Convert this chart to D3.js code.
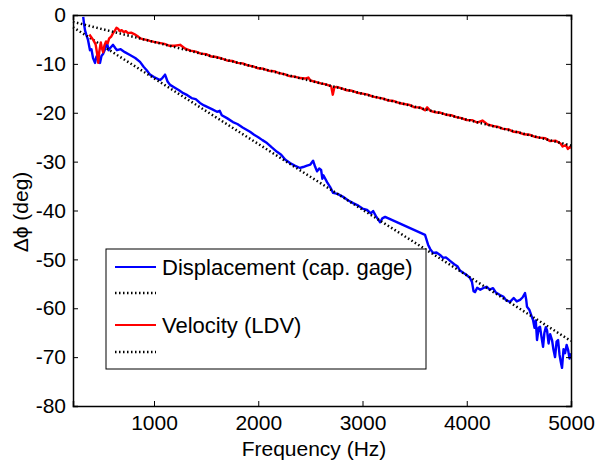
<!DOCTYPE html>
<html>
<head>
<meta charset="utf-8">
<script src="https://cdn.jsdelivr.net/npm/d3@7"></script>
<style>
  body { margin: 0; background: #fff; }
  svg { font-family: "Liberation Sans", Arial, sans-serif; }
</style>
</head>
<body>
<svg id="chart"></svg>
<script>
// measured phase lag, displacement (capacitance gage)
var dispFreq = [321, 330, 338, 350, 367, 386, 400, 415, 434, 448, 463, 482, 496, 511, 530, 549, 565, 578, 607, 630,
    645, 680, 720, 770, 820, 866, 900, 930, 962, 1000, 1058, 1080, 1106, 1130, 1154, 1200, 1240, 1281, 1320, 1360,
    1400, 1441, 1480, 1520, 1560, 1604, 1630, 1650, 1700, 1757, 1800, 1850, 1921, 1960, 2000, 2040, 2084, 2130, 2180, 2220,
    2260, 2305, 2350, 2401, 2430, 2468, 2500, 2526, 2545, 2564, 2585, 2603, 2615, 2625, 2660, 2690, 2718, 2760, 2814, 2860,
    2910, 2960, 3000, 3044, 3080, 3102, 3130, 3169, 3190, 3217, 3600, 3629, 3650, 3677, 3710, 3744, 3773, 3800, 3840, 3880,
    3910, 3935, 3970, 4000, 4031, 4050, 4065, 4079, 4100, 4130, 4156, 4190, 4220, 4252, 4280, 4319, 4350, 4380, 4415, 4450,
    4480, 4511, 4535, 4559, 4570, 4578, 4600, 4620, 4636, 4650, 4662, 4674, 4690, 4703, 4718, 4732, 4745, 4758, 4770, 4785,
    4800, 4818, 4832, 4847, 4862, 4876, 4890, 4902, 4914, 4928, 4943, 4958, 4972, 4986, 5000];
var dispPhase = [-0.4, -2.0, -3.1, -4.0, -5.1, -7.2, -7.0, -8.8, -9.8, -8.5, -8.6, -9.8, -8.4, -8.0, -7.0, -5.7, -7.2, -6.8, -6.1, -6.8,
    -7.2, -7.0, -7.6, -8.2, -8.8, -9.6, -10.6, -11.3, -12.2, -12.7, -13.3, -12.9, -12.2, -13.6, -14.3, -14.9, -15.4, -16.0, -16.4, -17.0,
    -17.2, -18.0, -18.5, -18.9, -19.3, -19.8, -19.6, -20.5, -21.1, -21.9, -22.3, -23.0, -23.9, -24.5, -25.0, -25.6, -26.2, -27.1, -28.0, -28.6,
    -29.6, -30.3, -30.8, -31.3, -31.1, -30.8, -30.6, -29.8, -31.0, -32.0, -31.4, -31.7, -33.5, -32.8, -34.2, -35.2, -36.4, -36.6, -37.2, -37.9,
    -38.5, -39.0, -39.6, -39.9, -40.6, -40.1, -41.2, -42.4, -41.6, -41.3, -45.0, -47.0, -47.9, -48.7, -48.6, -49.1, -49.7, -49.6, -50.3, -51.0,
    -51.4, -52.3, -52.8, -53.2, -53.8, -54.6, -56.5, -56.7, -55.8, -56.2, -55.9, -55.6, -56.2, -55.9, -56.8, -57.3, -57.6, -58.4, -58.7, -57.9,
    -58.6, -58.3, -57.8, -56.9, -58.2, -59.7, -60.3, -61.5, -62.4, -64.0, -62.5, -66.5, -64.0, -63.8, -66.0, -67.9, -65.0, -63.9, -64.5, -67.2,
    -65.3, -66.5, -68.5, -70.0, -66.8, -66.5, -69.5, -71.0, -72.2, -68.4, -69.2, -67.5, -68.5, -70.3, -69.2];

// measured phase lag, velocity (LDV)
var velFreq = [380, 400, 420, 440, 455, 465, 475, 490, 500, 512, 525, 540, 555, 570, 590, 610, 625, 640, 655, 670,
    690, 710, 730, 750, 780, 810, 840, 870, 900, 930, 960, 1000, 1050, 1100, 1150, 1200, 1250, 1300, 1350, 1400,
    1450, 1500, 1550, 1600, 1650, 1700, 1750, 1800, 1850, 1900, 1950, 2000, 2050, 2100, 2150, 2200, 2250, 2300, 2350, 2400,
    2450, 2480, 2500, 2550, 2600, 2650, 2700, 2715, 2730, 2750, 2800, 2850, 2900, 2950, 3000, 3050, 3100, 3150, 3200, 3250,
    3300, 3350, 3400, 3450, 3500, 3550, 3600, 3620, 3650, 3700, 3750, 3800, 3850, 3900, 3950, 4000, 4050, 4100, 4150, 4200,
    4250, 4300, 4350, 4400, 4450, 4500, 4550, 4600, 4650, 4700, 4750, 4800, 4850, 4900, 4920, 4950, 4970, 4990, 5000];
var velPhase = [-4.0, -4.6, -5.2, -6.0, -8.0, -9.8, -7.5, -5.6, -6.8, -7.6, -6.2, -5.4, -5.8, -4.8, -4.4, -3.6, -3.2, -2.6, -2.8, -3.3,
    -3.1, -3.5, -3.3, -3.7, -3.6, -3.9, -4.3, -4.8, -5.0, -5.1, -5.3, -5.5, -5.7, -5.9, -6.3, -6.3, -6.1, -6.9, -7.3, -7.5,
    -7.9, -8.0, -8.5, -8.6, -8.9, -9.3, -9.4, -9.8, -9.9, -10.3, -10.5, -10.9, -11.0, -11.4, -11.5, -11.9, -12.1, -12.5, -12.6, -12.9,
    -13.0, -12.8, -13.4, -13.7, -14.0, -14.2, -14.6, -16.3, -14.8, -14.7, -15.0, -15.4, -15.5, -15.9, -16.1, -16.3, -16.7, -16.9, -17.1, -17.5,
    -17.6, -18.0, -18.2, -18.4, -18.9, -18.9, -19.5, -18.9, -19.6, -19.9, -20.0, -20.4, -20.5, -20.9, -21.1, -21.5, -21.5, -22.0, -21.6, -22.4,
    -22.7, -22.9, -23.3, -23.4, -23.9, -24.0, -24.4, -24.5, -24.9, -25.1, -25.2, -25.8, -25.7, -26.3, -26.9, -26.6, -27.4, -27.0, -27.3];

// linear fits (end points)
var fitFreq = [223, 5000];
var dispFit = [-2.5, -66.7];
var velFit = [-1.4, -26.7];

var xTicks = [1000, 2000, 3000, 4000, 5000];
var yTicks = [0, -10, -20, -30, -40, -50, -60, -70, -80];
var legendLabels = ["Displacement (cap. gage)", "", "Velocity (LDV)", ""];

var width = 597, height = 461;
var margin = { left: 73, right: 26, top: 15, bottom: 55 };

var svg = d3.select("#chart")
    .attr("width", width)
    .attr("height", height);

var x = d3.scaleLinear().domain([223, 5000]).range([margin.left, width - margin.right]);
var y = d3.scaleLinear().domain([-80, 0]).range([height - margin.bottom, margin.top]);

function pts(fs, vs) {
    return fs.map(function (f, i) { return [f, vs[i]]; });
}

var line = d3.line()
    .x(function (d) { return x(d[0]); })
    .y(function (d) { return y(d[1]); });

var plot = svg.append("g");

plot.append("path")
    .attr("d", line(pts(dispFreq, dispPhase)))
    .attr("fill", "none")
    .attr("stroke", "#0000ff")
    .attr("stroke-width", 2.4)
    .attr("stroke-linejoin", "round");

plot.append("path")
    .attr("d", line(pts(fitFreq, dispFit)))
    .attr("fill", "none")
    .attr("stroke", "#000")
    .attr("stroke-width", 2.5)
    .attr("stroke-dasharray", "1.5,2.5");

plot.append("path")
    .attr("d", line(pts(velFreq, velPhase)))
    .attr("fill", "none")
    .attr("stroke", "#ff0000")
    .attr("stroke-width", 2.4)
    .attr("stroke-linejoin", "round");

plot.append("path")
    .attr("d", line(pts(fitFreq, velFit)))
    .attr("fill", "none")
    .attr("stroke", "#000")
    .attr("stroke-width", 2.5)
    .attr("stroke-dasharray", "1.5,2.5");

// axes with inward ticks on all four sides
var fontSize = 21;

var gx = svg.append("g")
    .attr("transform", "translate(0," + y(-80) + ")")
    .call(d3.axisBottom(x).tickValues(xTicks).tickSize(-5).tickPadding(9).tickFormat(d3.format("d")));
var gxTop = svg.append("g")
    .attr("transform", "translate(0," + y(0) + ")")
    .call(d3.axisTop(x).tickValues(xTicks).tickSize(-5).tickFormat(""));
var gy = svg.append("g")
    .attr("transform", "translate(" + x(223) + ",0)")
    .call(d3.axisLeft(y).tickValues(yTicks).tickSize(-5).tickPadding(7).tickFormat(d3.format("d")));
var gyRight = svg.append("g")
    .attr("transform", "translate(" + x(5000) + ",0)")
    .call(d3.axisRight(y).tickValues(yTicks).tickSize(-5).tickFormat(""));

[gx, gxTop, gy, gyRight].forEach(function (g) {
    g.select(".domain").attr("stroke", "#000").attr("stroke-width", 1.5);
    g.selectAll(".tick line").attr("stroke", "#000").attr("stroke-width", 1);
    g.selectAll(".tick text")
        .attr("fill", "#000")
        .style("font-size", fontSize + "px")
        .style("font-family", "Liberation Sans, Arial, sans-serif");
});
gy.selectAll(".tick text").text(function (d) { return d === 0 ? "0" : "-" + Math.abs(d); });

svg.append("text")
    .attr("x", 314)
    .attr("y", 456)
    .attr("text-anchor", "middle")
    .style("font-size", fontSize + "px")
    .text("Frequency (Hz)");

svg.append("text")
    .attr("transform", "translate(28,212) rotate(-90)")
    .attr("text-anchor", "middle")
    .style("font-size", fontSize + "px")
    .text("\u0394\u03d5 (deg)");

// legend
var legend = svg.append("g").attr("transform", "translate(106,249)");
legend.append("rect")
    .attr("width", 320)
    .attr("height", 120)
    .attr("fill", "#fff")
    .attr("stroke", "#000")
    .attr("stroke-width", 1);

var legendStyles = [
    { color: "#0000ff", dash: null, w: 2 },
    { color: "#000", dash: "1.5,2.5", w: 2.5 },
    { color: "#ff0000", dash: null, w: 2 },
    { color: "#000", dash: "1.5,2.5", w: 2.5 }
];
var rowY = [18, 44, 76, 103];

legendLabels.forEach(function (label, i) {
    var s = legendStyles[i];
    legend.append("line")
        .attr("x1", 9).attr("x2", 50)
        .attr("y1", rowY[i]).attr("y2", rowY[i])
        .attr("stroke", s.color)
        .attr("stroke-width", s.w)
        .attr("stroke-dasharray", s.dash);
    if (label) {
        legend.append("text")
            .attr("x", 56)
            .attr("y", rowY[i])
            .attr("dy", "0.36em")
            .style("font-size", "22px")
            .text(label);
    }
});
</script>
</body>
</html>
